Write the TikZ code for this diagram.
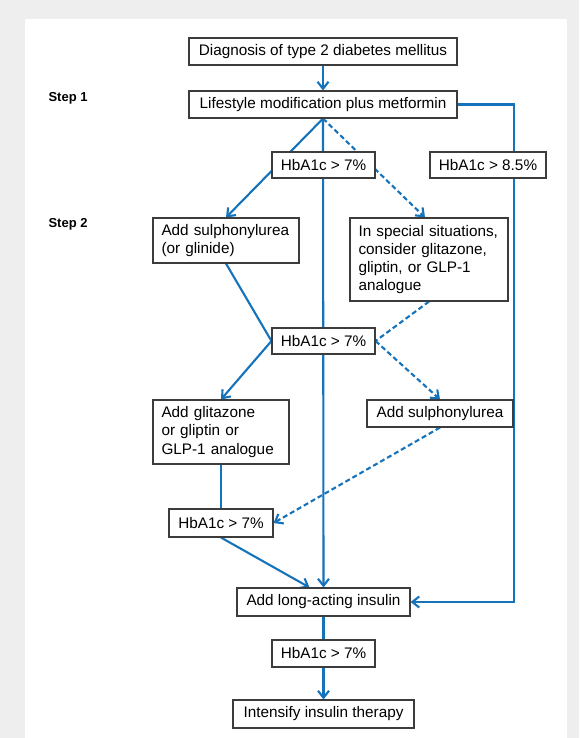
\documentclass[tikz,border=0pt]{standalone}
\usepackage{fontspec}
\setmainfont{Liberation Sans}
\usetikzlibrary{arrows.meta,positioning}
\definecolor{flowblue}{RGB}{20,115,186}
\definecolor{framegray}{RGB}{238,238,238}
\definecolor{boxline}{RGB}{60,60,60}
\pgfdeclarelayer{panel}
\pgfdeclarelayer{lines}
\pgfsetlayers{panel,lines,main}
\tikzset{
  box/.style={draw=boxline, fill=white, line width=1.1pt, inner xsep=8.5pt, inner ysep=0pt,
    minimum height=27pt, font=\fontsize{15.3}{18.3}\selectfont},
  multibox/.style={box, align=left, text width=#1},
  steplabel/.style={anchor=west, font=\fontsize{13}{15}\selectfont\bfseries},
  flow/.style={draw=flowblue, line width=2.1pt},
  barb/.style={-{Straight Barb[length=7pt,width=11pt]}},
  flowarrow/.style={flow, barb},
  flowdash/.style={flow, dash pattern=on 5pt off 3pt},
  dasharrow/.style={flowdash, barb},
}

\begin{document}
\begin{tikzpicture}[x=1pt, y=-1pt]
    \useasboundingbox (0,0) rectangle (579,738);

    % Hintergrund
    \begin{pgfonlayer}{panel}
        \fill[framegray] (0,0) rectangle (579,738);
        \fill[white] (25,19) rectangle (567,738);
    \end{pgfonlayer}

    % Stufen
    \node[steplabel] (step1) at (45,98) {Step 1};
    \node[steplabel] (step2) at (45,224) {Step 2};

    % Kaesten
    \node[box, minimum width=268pt] (diag) at (323,51.5) {Diagnosis of type 2 diabetes mellitus};
    \node[box, minimum width=268pt] (life) at (323,104.5) {Lifestyle modification plus metformin};
    \node[box, minimum width=103pt, minimum height=26pt] (hba) at (323.5,165) {HbA1c > 7\%};
    \node[box, minimum width=116pt, minimum height=26pt] (hbhigh) at (488,165) {HbA1c > 8.5\%};
    \node[multibox=129pt, minimum height=45pt] (sulph) at (226,240.5) {Add sulphonylurea\\(or glinide)};
    \node[multibox=141pt, minimum height=83pt] (special) at (429,259.5)
        {In special situations,\\consider glitazone,\\gliptin, or GLP-1\\analogue};
    \node[box, minimum width=103pt, minimum height=26pt] (hbb) at (323.5,341) {HbA1c > 7\%};
    \node[multibox=119pt, minimum height=64pt] (glit) at (221,432) {Add glitazone\\or gliptin or\\GLP-1 analogue};
    \node[box, minimum width=146pt] (sulphb) at (440,413.5) {Add sulphonylurea};
    \node[box, minimum width=104pt, minimum height=28pt] (hbc) at (221,523) {HbA1c > 7\%};
    \node[box, minimum width=173pt, minimum height=28pt] (insulin) at (323.5,602) {Add long-acting insulin};
    \node[box, minimum width=103pt] (hbd) at (323.5,653.5) {HbA1c > 7\%};
    \node[box, minimum width=181pt, minimum height=28pt] (intens) at (323.5,714) {Intensify insulin therapy};

    \coordinate (rail) at (514,0);

    % Verbindungen
    \begin{pgfonlayer}{lines}
        \draw[flowarrow] (diag) -- (life);
        \draw[flowarrow] (life.south) -- (sulph.north);
        \draw[flowarrow] (life.south) -- (insulin.north);
        \draw[dasharrow] (life.south) -- ([xshift=-4pt]special.north);
        \draw[flowarrow] (life.east) -- (life.east -| rail) -- (insulin.east -| rail) -- (insulin.east);

        \draw[flow] (sulph.south) -- (hbb.west);
        \draw[flowdash] (special.south) -- (hbb.east);
        \draw[flowarrow] (hbb.west) -- (glit.north);
        \draw[dasharrow] (hbb.east) -- (sulphb.north);

        \draw[flow] (glit.south) -- (hbc.north);
        \draw[dasharrow] (sulphb.south) -- (hbc.east);
        \draw[flowarrow] (hbc.south) -- ([xshift=-14pt]insulin.north);

        \draw[flow] (insulin.south) -- (hbd.north);
        \draw[flowarrow] (hbd.south) -- (intens.north);
    \end{pgfonlayer}
\end{tikzpicture}
\end{document}
